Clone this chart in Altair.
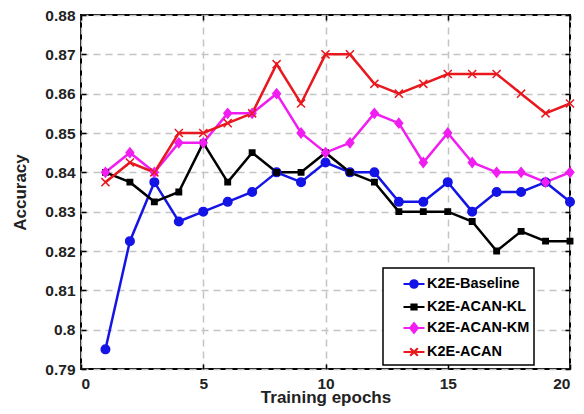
import altair as alt
import pandas as pd

# ---- data ----
epochs = list(range(1, 21))
series_names = ["K2E-Baseline", "K2E-ACAN-KL", "K2E-ACAN-KM", "K2E-ACAN"]
baseline = [0.795, 0.8225, 0.8375, 0.8275, 0.830, 0.8325, 0.835, 0.840, 0.8375, 0.8425,
            0.840, 0.840, 0.8325, 0.8325, 0.8375, 0.830, 0.835, 0.835, 0.8375, 0.8325]
acan_kl = [0.840, 0.8375, 0.8325, 0.835, 0.8475, 0.8375, 0.845, 0.840, 0.840, 0.845,
           0.840, 0.8375, 0.830, 0.830, 0.830, 0.8275, 0.820, 0.825, 0.8225, 0.8225]
acan_km = [0.840, 0.845, 0.840, 0.8475, 0.8475, 0.855, 0.855, 0.860, 0.850, 0.845,
           0.8475, 0.855, 0.8525, 0.8425, 0.850, 0.8425, 0.840, 0.840, 0.8375, 0.840]
acan = [0.8375, 0.8425, 0.840, 0.850, 0.850, 0.8525, 0.855, 0.8675, 0.8575, 0.870,
        0.870, 0.8625, 0.860, 0.8625, 0.865, 0.865, 0.865, 0.860, 0.855, 0.8575]
series_values = [baseline, acan_kl, acan_km, acan]
series_colors = ["#1414e6", "#000000", "#f01ef0", "#e8181e"]
x_ticks = [0, 5, 10, 15, 20]
y_ticks = [0.79, 0.80, 0.81, 0.82, 0.83, 0.84, 0.85, 0.86, 0.87, 0.88]

# marker glyphs (unit box -1..1)
marker_paths = [
    "M-0.95,0A0.95,0.95,0,1,1,0.95,0A0.95,0.95,0,1,1,-0.95,0Z",
    "M-0.6,-0.6H0.6V0.6H-0.6Z",
    "M0,-1.05L0.85,0L0,1.05L-0.85,0Z",
    "M-0.9,-0.9L0.9,0.9M-0.9,0.9L0.9,-0.9",
]
legend_paths = [
    "M-1,0H1M-0.35,0A0.35,0.35,0,1,1,0.35,0A0.35,0.35,0,1,1,-0.35,0Z",
    "M-1,0H1M-0.24,-0.24H0.24V0.24H-0.24Z",
    "M-1,0H1M0,-0.45L0.36,0L0,0.45L-0.36,0Z",
    "M-1,0H1M-0.36,-0.36L0.36,0.36M-0.36,0.36L0.36,-0.36",
]

rows = []
for name, vals in zip(series_names, series_values):
    for e, v in zip(epochs, vals):
        rows.append({"epoch": e, "series": name, "accuracy": v})
df = pd.DataFrame(rows)

FONT = "Liberation Sans"
xs = alt.Scale(domain=[0, 20], nice=False, zero=False)
ys = alt.Scale(domain=[0.79, 0.88], nice=False, zero=False)
cs = alt.Scale(domain=series_names, range=series_colors)

lines = alt.Chart(df).mark_line(strokeWidth=2.5).encode(
    x=alt.X("epoch:Q", scale=xs, axis=alt.Axis(
        orient="bottom", values=x_ticks, format="d", grid=True, offset=-5, tickSize=5,
        domain=False, labelPadding=7, title="Training epochs", titleY=38,
        titleBaseline="alphabetic")),
    y=alt.Y("accuracy:Q", scale=ys, axis=alt.Axis(
        orient="left", values=y_ticks, format=".2~f", grid=True, offset=-5, tickSize=5,
        domain=False, labelPadding=6, title="Accuracy", titleX=-61,
        titleBaseline="alphabetic")),
    color=alt.Color("series:N", scale=cs, legend=None),
)

points = alt.Chart(df).mark_point(filled=True, size=81, strokeWidth=1.5, opacity=1).encode(
    x=alt.X("epoch:Q", scale=xs, axis=alt.Axis(
        orient="top", values=x_ticks, labels=False, grid=False, offset=-5, tickSize=5,
        domain=False, title=None)),
    y=alt.Y("accuracy:Q", scale=ys, axis=alt.Axis(
        orient="right", values=y_ticks, labels=False, grid=False, offset=-5, tickSize=5,
        domain=False, title=None)),
    color=alt.Color("series:N", scale=cs, legend=None),
    stroke=alt.Stroke("series:N", scale=cs, legend=None),
    shape=alt.Shape("series:N", scale=alt.Scale(domain=series_names, range=marker_paths), legend=None),
)

leg = alt.Legend(
    title=None, orient="none", legendX=302, legendY=253, padding=4,
    strokeColor="black", fillColor="white", symbolSize=441, symbolStrokeWidth=2.2,
    symbolOffset=15, labelOffset=1, labelFont=FONT, labelFontSize=14.5,
    labelFontWeight="bold", labelColor="black", rowPadding=2,
    labelExpr="datum.label + '         '",
)

legend_layer = alt.Chart(df).transform_filter("false").mark_point(filled=True, strokeWidth=2.2, opacity=1).encode(
    x=alt.X("epoch:Q", scale=xs, axis=None),
    y=alt.Y("accuracy:Q", scale=ys, axis=None),
    color=alt.Color("series:N", scale=cs, legend=leg),
    stroke=alt.Stroke("series:N", scale=cs, legend=leg),
    shape=alt.Shape("series:N", scale=alt.Scale(domain=series_names, range=legend_paths), legend=leg),
)

chart = alt.layer(lines, points, legend_layer).resolve_scale(
    color="independent", stroke="independent", shape="independent"
).resolve_axis(
    x="independent", y="independent"
).properties(
    width=489, height=354,
    padding={"left": 73, "top": 7, "right": 6, "bottom": 37},
    autosize=alt.AutoSizeParams(type="none"),
).configure_view(
    stroke="black", strokeWidth=2
).configure_axis(
    labelFont=FONT, labelFontSize=15.5, labelFontWeight="bold", labelColor="#222222",
    titleFont=FONT, titleFontSize=17, titleFontWeight="bold", titleColor="#222222",
    tickColor="black", tickWidth=1.5,
    gridColor="#c4c4c4", gridDash=[7, 5], gridWidth=1.5,
).configure_legend(
    strokeWidth=1.5
)

chart.save("out.html", embed_options={"renderer": "svg", "actions": False})
